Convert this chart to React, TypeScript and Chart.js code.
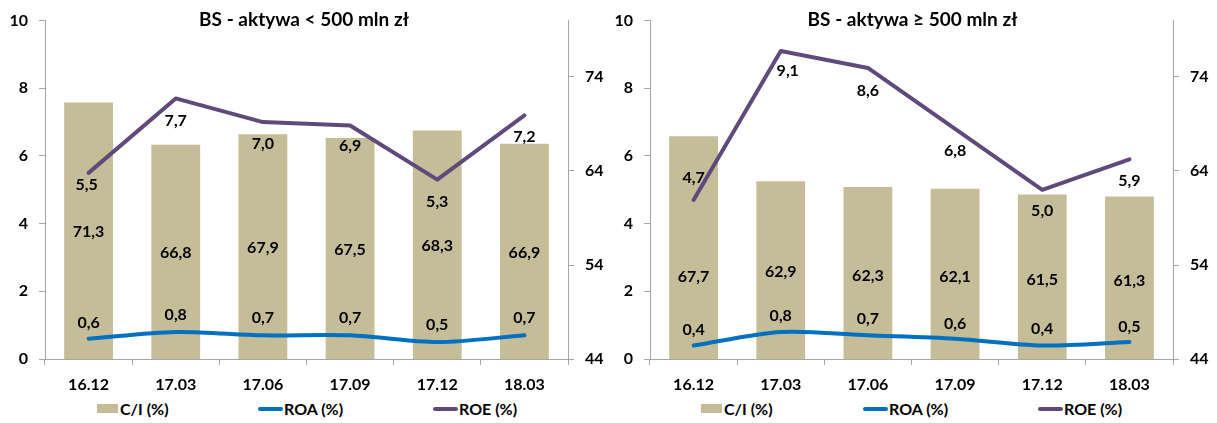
import React, { useEffect, useRef } from "react";
import { Chart, registerables } from "chart.js";

Chart.register(...registerables);

// ---------- data ----------
const CATEGORIES = ["16.12", "17.03", "17.06", "17.09", "17.12", "18.03"];

const CI_SMALL = [71.3, 66.8, 67.9, 67.5, 68.3, 66.9];
const ROA_SMALL = [0.6, 0.8, 0.7, 0.7, 0.5, 0.7];
const ROE_SMALL = [5.5, 7.7, 7.0, 6.9, 5.3, 7.2];

const CI_LARGE = [67.7, 62.9, 62.3, 62.1, 61.5, 61.3];
const ROA_LARGE = [0.4, 0.8, 0.7, 0.6, 0.4, 0.5];
const ROE_LARGE = [4.7, 9.1, 8.6, 6.8, 5.0, 5.9];

const LEFT_TICKS = [0, 2, 4, 6, 8, 10];
const RIGHT_TICKS = [44, 54, 64, 74];

const TITLE_SMALL = "BS - aktywa < 500 mln zł";
const TITLE_LARGE = "BS - aktywa ≥ 500 mln zł";
const LEGEND_CI = "C/I (%)";
const LEGEND_ROA = "ROA (%)";
const LEGEND_ROE = "ROE (%)";

// ---------- styles ----------
const BAR_COLOR = "#C4BD97";
const ROA_COLOR = "#0070C0";
const ROE_COLOR = "#604A7B";
const AXIS_COLOR = "#A6A6A6";
const FONT = "Lato";
const FS = 16;

const fmt = (v: number) => v.toFixed(1).replace(".", ",");

type Offsets = { ci: number[]; roa: number[]; roe: number[]; roeDx: number[] };
const KEYS = ["roa", "roe", "ci"] as const;

function makeLabelPlugin(offsets: Offsets) {
  return {
    id: "valueLabels",
    afterDatasetsDraw(chart: any) {
      const ctx = chart.ctx;
      ctx.save();
      ctx.font = `bold ${FS}px ${FONT}`;
      ctx.fillStyle = "#000";
      ctx.textAlign = "center";
      ctx.textBaseline = "middle";
      chart.data.datasets.forEach((ds: any, di: number) => {
        const meta = chart.getDatasetMeta(di);
        const key = KEYS[di];
        meta.data.forEach((el: any, i: number) => {
          const v = ds.data[i] as number;
          let y: number;
          let x = el.x;
          if (key === "ci") {
            const sc = chart.scales.y1;
            const top = sc.getPixelForValue(v);
            const base = sc.getPixelForValue(sc.min);
            y = (top + base) / 2 + offsets.ci[i];
          } else {
            y = chart.scales.y.getPixelForValue(v) + offsets[key][i];
            if (key === "roe") x += offsets.roeDx[i];
          }
          ctx.fillText(fmt(v), x, y);
        });
      });
      ctx.restore();
    },
  };
}

type PanelProps = {
  left: number;
  width: number;
  title: string;
  ci: number[];
  roa: number[];
  roe: number[];
  leftAxisW: number;
  rightAxisW: number;
  offsets: Offsets;
  legendX: number[];
};

function Panel(p: PanelProps) {
  const ref = useRef<HTMLCanvasElement | null>(null);

  useEffect(() => {
    if (!ref.current) return;
    const tickFont = { family: FONT, size: FS, weight: "bold" as const };
    const chart = new Chart(ref.current, {
      type: "bar",
      data: {
        labels: CATEGORIES,
        datasets: [
          {
            type: "line",
            label: LEGEND_ROA,
            data: p.roa,
            yAxisID: "y",
            borderColor: ROA_COLOR,
            backgroundColor: ROA_COLOR,
            borderWidth: 4,
            pointRadius: 0,
            tension: 0.3,
            borderCapStyle: "round",
            borderJoinStyle: "round",
            fill: false,
            order: 1,
          } as any,
          {
            type: "line",
            label: LEGEND_ROE,
            data: p.roe,
            yAxisID: "y",
            borderColor: ROE_COLOR,
            backgroundColor: ROE_COLOR,
            borderWidth: 4,
            pointRadius: 0,
            tension: 0,
            borderCapStyle: "round",
            borderJoinStyle: "round",
            fill: false,
            order: 2,
          } as any,
          {
            type: "bar",
            label: LEGEND_CI,
            data: p.ci,
            yAxisID: "y1",
            backgroundColor: BAR_COLOR,
            barPercentage: 0.56,
            categoryPercentage: 1,
            order: 3,
          } as any,
        ],
      },
      options: {
        responsive: false,
        animation: false,
        layout: { padding: { top: 17, left: 0, right: 0, bottom: 0 } },
        plugins: {
          legend: { display: false },
          tooltip: { enabled: false },
          title: { display: false },
        },
        scales: {
          x: {
            grid: {
              display: true,
              drawOnChartArea: false,
              drawTicks: true,
              tickLength: 6,
              color: AXIS_COLOR,
              offset: true,
            },
            border: { display: true, color: AXIS_COLOR, width: 1 },
            ticks: { color: "#000", font: tickFont, padding: 10, maxRotation: 0 },
            afterFit: (s: any) => {
              s.height = 36;
            },
          },
          y: {
            position: "left",
            min: 0,
            max: 10,
            afterBuildTicks: (s: any) => {
              s.ticks = LEFT_TICKS.map((v) => ({ value: v }));
            },
            grid: { drawOnChartArea: false, tickLength: 6, color: AXIS_COLOR },
            border: { display: true, color: AXIS_COLOR, width: 1 },
            ticks: { color: "#000", font: tickFont, padding: 11 },
            afterFit: (s: any) => {
              s.width = p.leftAxisW;
            },
          },
          y1: {
            position: "right",
            min: 44,
            max: 80,
            afterBuildTicks: (s: any) => {
              s.ticks = RIGHT_TICKS.map((v) => ({ value: v }));
            },
            grid: { drawOnChartArea: false, tickLength: 6, color: AXIS_COLOR },
            border: { display: true, color: AXIS_COLOR, width: 1 },
            ticks: { color: "#000", font: tickFont, padding: 11 },
            afterFit: (s: any) => {
              s.width = p.rightAxisW;
            },
          },
        },
      } as any,
      plugins: [makeLabelPlugin(p.offsets)],
    });
    return () => chart.destroy();
  }, []);

  const legendText: React.CSSProperties = {
    position: "absolute",
    top: 399,
    fontFamily: FONT,
    fontWeight: "bold",
    fontSize: FS,
    lineHeight: "20px",
    color: "#000",
    whiteSpace: "nowrap",
  };

  return (
    <div style={{ position: "absolute", left: p.left, top: 0, width: p.width, height: 423 }}>
      <canvas ref={ref} width={p.width} height={395} style={{ position: "absolute", left: 0, top: 0 }} />
      <div
        style={{
          position: "absolute",
          left: 0,
          top: 7,
          width: p.width,
          textAlign: "center",
          fontFamily: FONT,
          fontWeight: "bold",
          fontSize: 19,
          lineHeight: "23px",
          color: "#000",
          whiteSpace: "nowrap",
        }}
      >
        {p.title}
      </div>
      {/* legend */}
      <div style={{ position: "absolute", left: p.legendX[0], top: 404, width: 21, height: 9, background: BAR_COLOR }} />
      <div style={{ ...legendText, left: p.legendX[0] + 23 }}>{LEGEND_CI}</div>
      <div style={{ position: "absolute", left: p.legendX[1], top: 407, width: 25, height: 4, borderRadius: 2, background: ROA_COLOR }} />
      <div style={{ ...legendText, left: p.legendX[1] + 26 }}>{LEGEND_ROA}</div>
      <div style={{ position: "absolute", left: p.legendX[2], top: 407, width: 25, height: 4, borderRadius: 2, background: ROE_COLOR }} />
      <div style={{ ...legendText, left: p.legendX[2] + 26 }}>{LEGEND_ROE}</div>
    </div>
  );
}

export default function App() {
  return (
    <div style={{ position: "fixed", left: 0, top: 0, width: 1217, height: 423, background: "#fff", overflow: "hidden" }}>
      <Panel
        left={0}
        width={608}
        title={TITLE_SMALL}
        ci={CI_SMALL}
        roa={ROA_SMALL}
        roe={ROE_SMALL}
        leftAxisW={45}
        rightAxisW={40}
        offsets={{
          ci: [1, 1, 1, 1, 1, 1],
          roa: [-16, -17, -17, -17, -17, -17],
          roe: [12, 22, 22, 20, 22, 21],
          roeDx: [-2, 0, 0, 0, 0, 0],
        }}
        legendX={[97, 258, 433]}
      />
      <Panel
        left={608}
        width={609}
        title={TITLE_LARGE}
        ci={CI_LARGE}
        roa={ROA_LARGE}
        roe={ROE_LARGE}
        leftAxisW={42}
        rightAxisW={44}
        offsets={{
          ci: [29, 2, 3, 3, 3, 3],
          roa: [-16, -16, -16, -15, -17, -15],
          roe: [-22, 20, 23, 22, 21, 21],
          roeDx: [0, 7, 0, 0, 0, 0],
        }}
        legendX={[93, 255, 430]}
      />
    </div>
  );
}
